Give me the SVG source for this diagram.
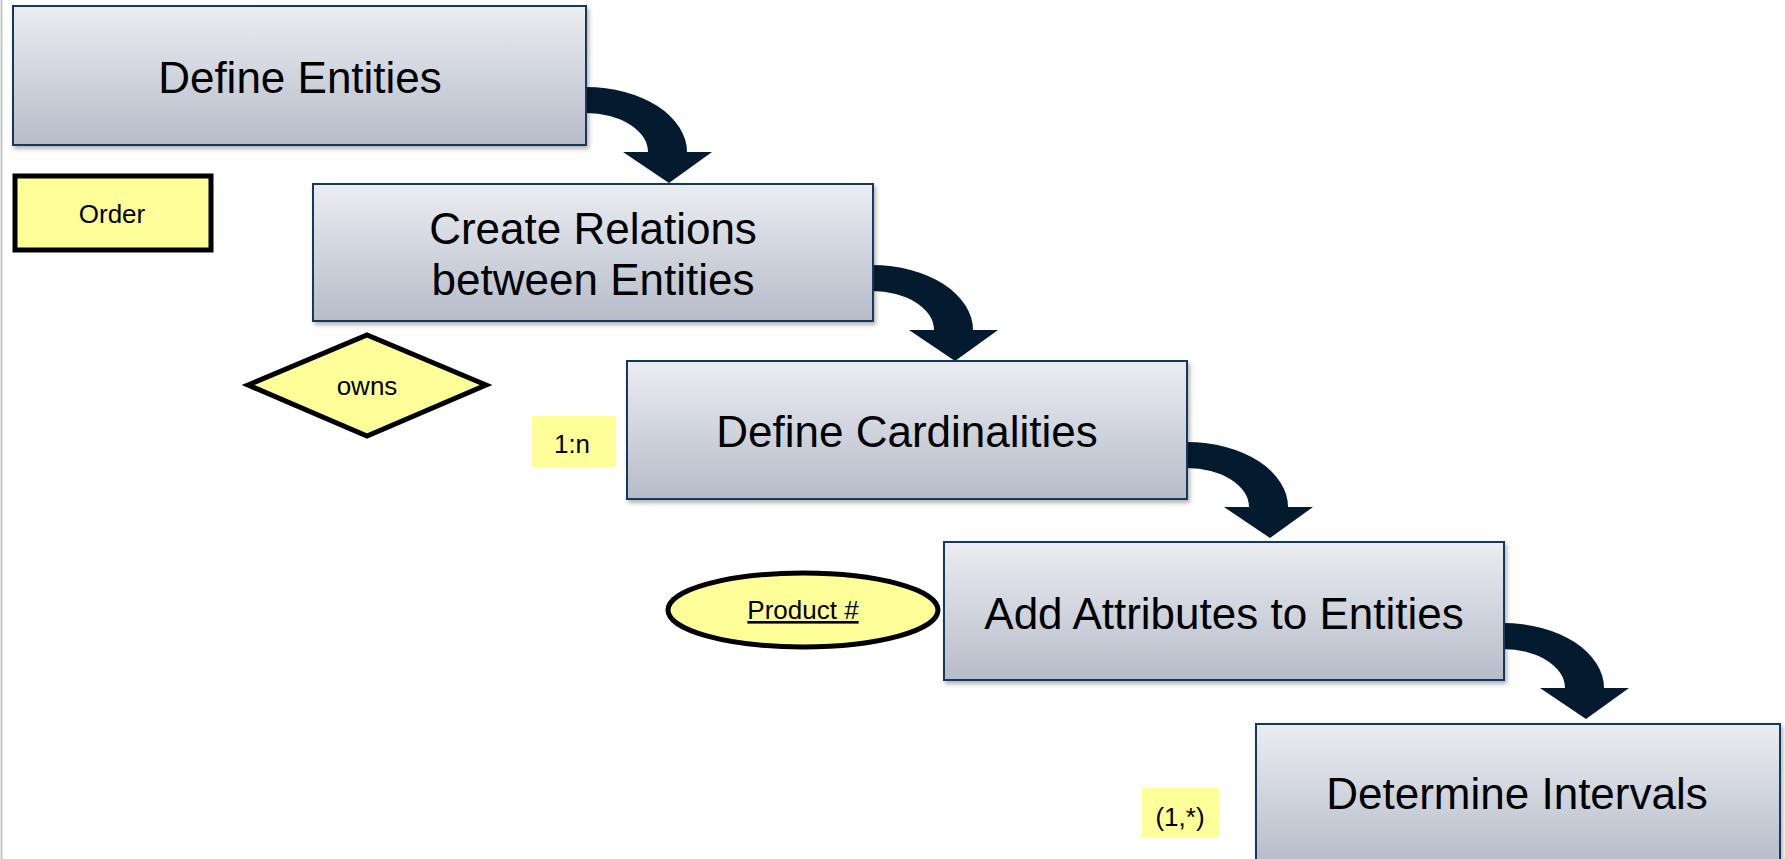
<svg xmlns="http://www.w3.org/2000/svg" width="1785" height="859" viewBox="0 0 1785 859">
<defs>
  <linearGradient id="boxGrad" x1="0" y1="0" x2="0" y2="1">
    <stop offset="0" stop-color="#EBEDF1"/>
    <stop offset="1" stop-color="#B6BCC9"/>
  </linearGradient>
  <filter id="shadow" x="-5%" y="-5%" width="112%" height="120%">
    <feDropShadow dx="2" dy="3" stdDeviation="2" flood-color="#000" flood-opacity="0.3"/>
  </filter>
  <path id="arrowShape" d="M -1,81 A 101,65 0 0 1 100,146 L 125,146 L 82,177 L 36,146 L 61,146 A 62,39 0 0 0 -1,107 Z"/>
</defs>
<style>
  .box { fill: url(#boxGrad); stroke: #17375E; stroke-width: 2; filter: url(#shadow); }
  .big { font-family: "Liberation Sans", Arial, sans-serif; font-size: 44px; fill: #000; text-anchor: middle; }
  .yel { fill: #FFFF99; stroke: #000; stroke-width: 5; }
  .tag { fill: #FFFF99; stroke: none; }
  .small { font-family: "Liberation Sans", Arial, sans-serif; font-size: 26px; fill: #000; text-anchor: middle; }
  .arrow { fill: #041A2F; }
</style>
<rect x="0" y="0" width="1785" height="859" fill="#FFFFFF"/>
<line x1="1.5" y1="0" x2="1.5" y2="859" stroke="#C4C4C4" stroke-width="2"/>

<g id="connectors">
  <use href="#arrowShape" class="arrow" transform="translate(587,6)"/>
  <use href="#arrowShape" class="arrow" transform="translate(873,184)"/>
  <use href="#arrowShape" class="arrow" transform="translate(1188,361)"/>
  <use href="#arrowShape" class="arrow" transform="translate(1504,542)"/>
</g>

<g id="define-entities">
  <rect class="box" x="13" y="6" width="573" height="139"/>
  <text class="big" x="300" y="93">Define Entities</text>
</g>

<g id="order">
  <rect class="yel" x="15" y="176" width="196" height="74"/>
  <text class="small" x="112" y="223">Order</text>
</g>

<g id="create-relations">
  <rect class="box" x="313" y="184" width="560" height="137"/>
  <text class="big" x="593" y="244">Create Relations</text>
  <text class="big" x="593" y="295">between Entities</text>
</g>

<g id="owns">
  <polygon class="yel" stroke-width="4" points="248,385 367,335 486,385 367,436"/>
  <text class="small" x="367" y="395">owns</text>
</g>

<g id="define-cardinalities">
  <rect class="box" x="627" y="361" width="560" height="138"/>
  <text class="big" x="907" y="447">Define Cardinalities</text>
</g>

<g id="one-to-n">
  <rect class="tag" x="532" y="416" width="84" height="51"/>
  <text class="small" x="572" y="453">1:n</text>
</g>

<g id="add-attributes">
  <rect class="box" x="944" y="542" width="560" height="138"/>
  <text class="big" x="1224" y="629">Add Attributes to Entities</text>
</g>

<g id="product">
  <ellipse class="yel" cx="803" cy="610" rx="135" ry="37"/>
  <text class="small" x="803" y="619" font-size="27" text-decoration="underline">Product #</text>
</g>

<g id="determine-intervals">
  <rect class="box" x="1256" y="724" width="524" height="140"/>
  <text class="big" x="1517" y="809">Determine Intervals</text>
</g>

<g id="interval">
  <rect class="tag" x="1142" y="788" width="77" height="49"/>
  <text class="small" x="1180" y="826" font-size="23">(1,*)</text>
</g>
</svg>
